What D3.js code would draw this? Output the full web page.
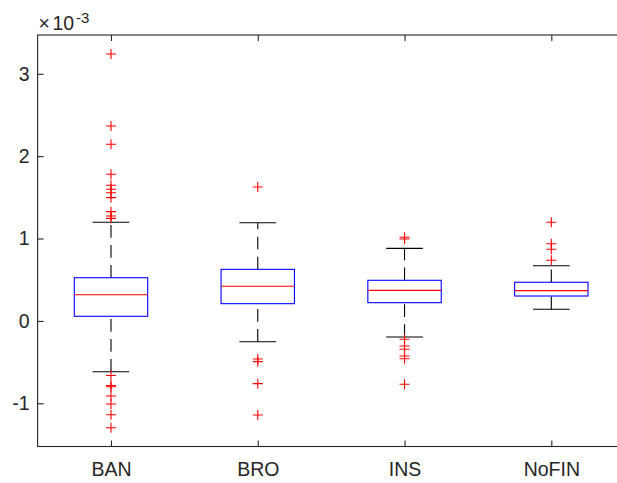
<!DOCTYPE html>
<html>
<head>
<meta charset="utf-8">
<script src="https://cdn.jsdelivr.net/npm/d3@7"></script>
<style>
  html, body { margin: 0; padding: 0; background: #fff; }
  svg { display: block; }
  text { font-family: "Liberation Sans", Arial, Helvetica, sans-serif; fill: #262626; font-size: 19.5px; }
</style>
</head>
<body>
<svg id="chart" width="617" height="483"></svg>
<script>
// ---- data (values in units of 1e-3) ----
const categories = ["BAN", "BRO", "INS", "NoFIN"];
const q1        = [0.056, 0.209, 0.221, 0.302];
const medians   = [0.318, 0.420, 0.371, 0.367];
const q3        = [0.524, 0.626, 0.493, 0.469];
const whiskLow  = [-0.617, -0.253, -0.195, 0.141];
const whiskHigh = [1.197, 1.192, 0.881, 0.670];
const outliers = [
  [3.24, 2.366, 2.144, 1.780, 1.646, 1.598, 1.556, 1.496, 1.326, 1.273, 1.245,
   -0.663, -0.784, -0.800, -0.912, -1.009, -1.139, -1.298],
  [1.625, -0.463, -0.495, -0.762, -1.142],
  [1.015, 0.994, -0.223, -0.305, -0.345, -0.426, -0.459, -0.770],
  [1.197, 0.937, 0.869, 0.736]
];
const yTicks = [-1, 0, 1, 2, 3];
const yDomain = [-1.525, 3.471];
const exponentLabel = "-3";

(function () {
const svg = d3.select("#chart");
const pL = 37.6, pR = 624.7, pT = 35, pB = 446.5;
const x = d3.scaleLinear().domain([0.5, 4.5]).range([pL, pR]);
const y = d3.scaleLinear().domain(yDomain).range([pB, pT]);
const boxHalf = 0.25, capHalf = 0.125;
const axisColor = "#262626";
const fs = "19.5px";

const g = svg.append("g");

categories.forEach((c, i) => {
  const p = i + 1;
  const cx = x(p);
  g.append("line").attr("x1", cx).attr("x2", cx)
    .attr("y1", y(q3[i])).attr("y2", y(whiskHigh[i]))
    .attr("stroke", "#000").attr("stroke-width", 1.1).attr("stroke-dasharray", "12.7,7.3");
  g.append("line").attr("x1", cx).attr("x2", cx)
    .attr("y1", y(whiskLow[i])).attr("y2", y(q1[i]))
    .attr("stroke", "#000").attr("stroke-width", 1.1).attr("stroke-dasharray", "12.7,7.3");
  [whiskHigh[i], whiskLow[i]].forEach(v => {
    g.append("line").attr("x1", x(p - capHalf)).attr("x2", x(p + capHalf))
      .attr("y1", y(v)).attr("y2", y(v))
      .attr("stroke", "#000").attr("stroke-width", 1.1);
  });
  g.append("rect").attr("x", x(p - boxHalf)).attr("y", y(q3[i]))
    .attr("width", x(p + boxHalf) - x(p - boxHalf)).attr("height", y(q1[i]) - y(q3[i]))
    .attr("fill", "none").attr("stroke", "#0000ff").attr("stroke-width", 1.1);
  g.append("line").attr("x1", x(p - boxHalf)).attr("x2", x(p + boxHalf))
    .attr("y1", y(medians[i])).attr("y2", y(medians[i]))
    .attr("stroke", "#ff0000").attr("stroke-width", 1.1);
  outliers[i].forEach(v => {
    const oy = y(v), m = 5;
    g.append("path")
      .attr("d", `M${cx - m},${oy}H${cx + m}M${cx},${oy - m}V${oy + m}`)
      .attr("stroke", "#ff0000").attr("stroke-width", 1.1).attr("fill", "none");
  });
});

const yAxis = d3.axisLeft(y).tickValues(yTicks).tickSize(-6).tickPadding(8).tickFormat(d3.format("d"));
const yG = svg.append("g").attr("transform", `translate(${pL},0)`).call(yAxis);
const yAxisR = d3.axisRight(y).tickValues(yTicks).tickSize(-6).tickFormat("");
svg.append("g").attr("transform", `translate(${pR},0)`).call(yAxisR);
const xAxis = d3.axisBottom(x).tickValues([1, 2, 3, 4]).tickSize(-6).tickPadding(16)
  .tickFormat(d => categories[d - 1]);
const xG = svg.append("g").attr("transform", `translate(0,${pB})`).call(xAxis);
const xAxisT = d3.axisTop(x).tickValues([1, 2, 3, 4]).tickSize(-6).tickFormat("");
svg.append("g").attr("transform", `translate(0,${pT})`).call(xAxisT);

svg.selectAll(".tick line").attr("stroke", axisColor).attr("stroke-width", 1.1);
svg.selectAll(".tick text").style("font-size", fs).style("fill", axisColor);
yG.selectAll(".tick text").text(d => d < 0 ? "-" + Math.abs(d) : d);
svg.selectAll(".domain").remove();
svg.append("rect").attr("x", pL).attr("y", pT).attr("width", pR - pL).attr("height", pB - pT)
  .attr("fill", "none").attr("stroke", axisColor).attr("stroke-width", 1.1);

const ex = svg.append("text").attr("y", 29.5).style("font-size", fs);
ex.append("tspan").attr("x", 38.5).text("×");
ex.append("tspan").attr("x", 52.5).text("10");
ex.append("tspan").attr("x", 76).attr("dy", -7).style("font-size", "15px").text(exponentLabel);
})();
</script>
</body>
</html>
